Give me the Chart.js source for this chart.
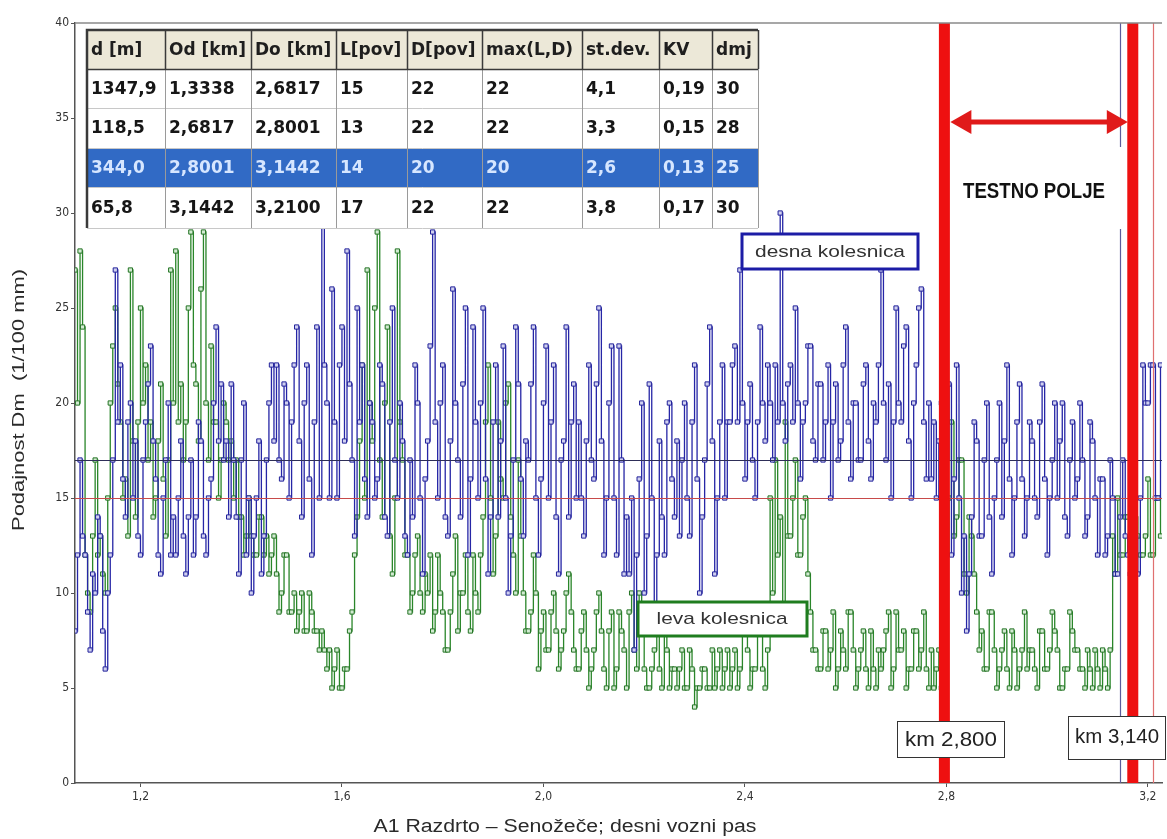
<!DOCTYPE html>
<html>
<head>
<meta charset="utf-8">
<script src="https://cdn.jsdelivr.net/npm/chart.js@4.4.0/dist/chart.umd.min.js"></script>
<style>
html,body{margin:0;padding:0;background:#fff;}
#wrap{width:1167px;height:839px;position:relative;}
</style>
</head>
<body>
<div id="wrap"><canvas id="c" width="1167" height="839"></canvas></div>
<script>
// ---------- DATA ----------
const startKm = 1.07;          // first measuring station (km)
const stepKm = 0.005;          // station spacing (km)

// Podajnost Dm (1/100 mm) - desna kolesnica (blue)
const desnaKolesnica = [
  8, 12, 17, 13, 12, 9, 7, 11, 10, 14, 13, 8, 6, 10, 12, 17, 27, 19, 22, 16,
  14, 19, 20, 15, 18, 13, 12, 17, 19, 21, 23, 18, 16, 12, 11, 15, 17, 20, 12, 14,
  12, 15, 18, 13, 11, 14, 17, 12, 14, 19, 18, 13, 12, 15, 16, 20, 24, 18, 21, 17,
  18, 14, 21, 17, 14, 11, 17, 20, 12, 15, 10, 13, 15, 18, 11, 13, 17, 20, 22, 18,
  22, 17, 16, 21, 20, 15, 19, 22, 24, 18, 14, 20, 22, 16, 12, 19, 24, 15, 30, 22,
  20, 15, 26, 19, 15, 22, 24, 18, 28, 21, 17, 13, 25, 19, 22, 16, 14, 20, 19, 15,
  16, 22, 21, 14, 13, 19, 25, 17, 15, 20, 18, 13, 12, 17, 14, 22, 20, 15, 11, 16,
  18, 23, 29, 19, 15, 20, 22, 14, 13, 18, 26, 20, 17, 14, 21, 25, 12, 16, 24, 19,
  15, 20, 25, 16, 11, 14, 19, 22, 14, 18, 23, 15, 10, 13, 17, 24, 21, 16, 13, 18,
  17, 21, 24, 15, 12, 16, 20, 23, 15, 19, 22, 14, 11, 17, 18, 24, 14, 19, 21, 15,
  19, 15, 13, 18, 22, 17, 16, 21, 25, 18, 12, 15, 20, 23, 15, 12, 23, 17, 11, 14,
  11, 15, 7, 12, 16, 20, 10, 13, 21, 15, 9, 12, 18, 14, 12, 19, 20, 16, 14, 18,
  13, 17, 20, 15, 13, 19, 22, 16, 10, 14, 17, 21, 24, 18, 11, 15, 19, 22, 15, 19,
  19, 22, 23, 19, 27, 20, 16, 19, 21, 17, 15, 19, 24, 20, 18, 22, 20, 17, 22, 19,
  30, 20, 18, 21, 22, 19, 25, 20, 16, 19, 20, 23, 23, 18, 17, 21, 21, 17, 19, 22,
  15, 19, 21, 17, 18, 22, 24, 19, 16, 20, 20, 17, 17, 21, 22, 18, 16, 20, 19, 22,
  27, 20, 17, 21, 15, 19, 25, 20, 19, 23, 24, 18, 15, 20, 22, 25, 26, 19, 16, 20,
  16, 19, 15, 18, 20, 14, 17, 21, 12, 16, 22, 15, 10, 13, 8, 11, 14, 19, 18, 13,
  13, 17, 20, 14, 11, 15, 17, 20, 14, 18, 22, 16, 12, 15, 19, 21, 16, 13, 15, 19,
  18, 15, 14, 19, 21, 16, 12, 15, 17, 20, 15, 18, 20, 14, 13, 17, 19, 15, 16, 20,
  17, 13, 14, 19, 18, 15, 12, 16, 16, 12, 13, 17, 15, 11, 11, 14, 17, 13, 12, 11,
  12, 13, 11, 15, 22, 20, 20, 22, 22, 15, 15, 22
];

// Podajnost Dm (1/100 mm) - leva kolesnica (green)
const levaKolesnica = [
  27, 20, 28, 24, 12, 10, 9, 13, 17, 12, 13, 11, 10, 15, 20, 23, 25, 21, 19, 15,
  16, 13, 27, 18, 14, 19, 25, 20, 22, 17, 19, 14, 15, 18, 21, 16, 13, 17, 27, 20,
  28, 19, 21, 17, 19, 25, 29, 22, 21, 18, 26, 29, 20, 17, 23, 19, 19, 15, 17, 20,
  19, 17, 18, 15, 17, 14, 14, 12, 13, 15, 13, 12, 12, 14, 14, 12, 13, 11, 12, 13,
  11, 9, 10, 12, 12, 9, 9, 10, 8, 9, 10, 8, 8, 10, 9, 8, 8, 7, 8, 7,
  6, 7, 5, 6, 7, 5, 5, 6, 6, 8, 9, 12, 14, 18, 22, 15, 27, 20, 18, 25,
  29, 17, 14, 20, 24, 13, 11, 15, 28, 19, 17, 12, 12, 9, 10, 12, 13, 10, 9, 11,
  10, 12, 8, 9, 12, 10, 9, 7, 7, 9, 11, 13, 8, 10, 10, 12, 9, 8, 12, 10,
  9, 12, 14, 19, 22, 15, 11, 13, 19, 16, 15, 20, 21, 14, 12, 10, 17, 13, 10, 8,
  8, 9, 12, 10, 6, 8, 9, 7, 7, 9, 10, 8, 6, 7, 8, 10, 11, 9, 7, 6,
  6, 8, 9, 7, 5, 6, 7, 9, 10, 8, 6, 5, 8, 9, 5, 6, 9, 8, 7, 5,
  9, 10, 7, 6, 10, 8, 6, 5, 5, 6, 7, 9, 6, 5, 8, 7, 5, 6, 6, 5,
  6, 7, 5, 5, 7, 6, 4, 5, 5, 6, 6, 5, 5, 7, 5, 6, 7, 5, 6, 7,
  5, 6, 7, 5, 6, 8, 9, 7, 5, 6, 6, 8, 8, 6, 5, 7, 15, 10, 17, 12,
  14, 8, 19, 13, 13, 15, 17, 12, 12, 14, 15, 11, 9, 7, 7, 6, 6, 8, 8, 6,
  7, 9, 5, 6, 8, 7, 6, 9, 9, 7, 5, 6, 7, 8, 6, 5, 8, 6, 5, 7,
  6, 7, 8, 9, 5, 6, 9, 7, 7, 8, 5, 6, 6, 8, 8, 6, 7, 9, 6, 5,
  7, 5, 6, 7, 5, 9, 12, 15, 19, 13, 14, 17, 17, 11, 10, 14, 13, 11, 9, 7,
  8, 6, 6, 9, 9, 7, 5, 6, 7, 8, 6, 5, 8, 7, 5, 6, 7, 9, 6, 7,
  7, 6, 5, 8, 8, 6, 6, 7, 9, 8, 7, 5, 5, 6, 6, 9, 8, 7, 7, 6,
  6, 5, 7, 6, 5, 7, 6, 5, 7, 6, 5, 7, 13, 11, 15, 12, 12, 14, 14, 12,
  11, 14, 13, 12, 12, 13, 16, 12, 12, 15, 15, 13
];

const xTickValues = [1.2, 1.6, 2.0, 2.4, 2.8, 3.2];
const xMin = 1.07, xMax = 3.228;
const yMin = 0, yMax = 40, yStep = 5;

const limitDesna = 17;               // horizontal reference (blue)
const limitLeva = 15;                // horizontal reference (red)
const testFieldKm = [2.796, 3.170];  // thick red markers
const segmentKm = [3.1442, 3.2100];  // thin segment boundaries

const tableHeader = ['d [m]', 'Od [km]', 'Do [km]', 'L[pov]', 'D[pov]', 'max(L,D)', 'st.dev.', 'KV', 'dmj'];
const tableRows = [
  ['1347,9', '1,3338', '2,6817', '15', '22', '22', '4,1', '0,19', '30'],
  ['118,5', '2,6817', '2,8001', '13', '22', '22', '3,3', '0,15', '28'],
  ['344,0', '2,8001', '3,1442', '14', '20', '20', '2,6', '0,13', '25'],
  ['65,8', '3,1442', '3,2100', '17', '22', '22', '3,8', '0,17', '30']
];
const highlightedRow = 2;

const yTitle = 'Podajnost Dm  (1/100 mm)';
const xTitle = 'A1 Razdrto – Senožeče; desni vozni pas';
const labelDesna = 'desna kolesnica';
const labelLeva = 'leva kolesnica';
const labelTest = 'TESTNO POLJE';
const labelKmStart = 'km 2,800';
const labelKmEnd = 'km 3,140';

// ---------- CHART ----------
const stations = desnaKolesnica.map((_, i) => +(startKm + i * stepKm).toFixed(3));
const tickFont = {family: '"Liberation Sans Narrow", "DejaVu Sans Condensed", "Liberation Sans", sans-serif', size: 12};

function fitText(ctx, text, cx, cy, width, font, color, rotate) {
  ctx.save();
  ctx.font = font;
  ctx.fillStyle = color;
  ctx.textAlign = 'center';
  ctx.textBaseline = 'middle';
  const w = ctx.measureText(text).width;
  ctx.translate(cx, cy);
  if (rotate) ctx.rotate(-Math.PI / 2);
  ctx.scale(width / w, 1);
  ctx.fillText(text, 0, 0);
  ctx.restore();
}

function labelBox(ctx, x0, y0, x1, y1, border, lw) {
  ctx.save();
  ctx.fillStyle = '#fff';
  ctx.fillRect(x0, y0, x1 - x0, y1 - y0);
  ctx.strokeStyle = border;
  ctx.lineWidth = lw;
  ctx.strokeRect(x0, y0, x1 - x0, y1 - y0);
  ctx.restore();
}

const overlay = {
  id: 'overlay',
  afterDatasetsDraw(chart) {
    const {ctx, chartArea: a, scales: {x, y}} = chart;
    ctx.save();
    ctx.beginPath();
    ctx.rect(a.left, a.top, a.right - a.left, a.bottom - a.top);
    ctx.clip();
    const hl = (v, c) => {
      const py = Math.round(y.getPixelForValue(v)) + 0.5;
      ctx.strokeStyle = c; ctx.lineWidth = 1.2;
      ctx.beginPath(); ctx.moveTo(a.left, py); ctx.lineTo(a.right, py); ctx.stroke();
    };
    hl(limitDesna, '#2e2e58');
    hl(limitLeva, '#c84a4a');
    const vl = (v, c) => {
      const px = Math.round(x.getPixelForValue(v)) + 0.5;
      ctx.strokeStyle = c; ctx.lineWidth = 1.2;
      ctx.beginPath(); ctx.moveTo(px, a.top); ctx.lineTo(px, a.bottom); ctx.stroke();
    };
    vl(segmentKm[0], '#5c5c9c');
    vl(segmentKm[1], '#e07070');
    ctx.fillStyle = '#ee1010';
    testFieldKm.forEach(k => {
      const px = x.getPixelForValue(k);
      ctx.fillRect(px - 5.5, a.top, 11, a.bottom - a.top);
    });
    ctx.restore();

    const p1 = x.getPixelForValue(testFieldKm[0]);
    const p2 = x.getPixelForValue(testFieldKm[1]);
    ctx.save();
    ctx.fillStyle = '#fff';
    ctx.fillRect(p1 + 7, 147, p2 - p1 - 13, 82);
    ctx.restore();

    ctx.save();
    ctx.fillStyle = '#e01a1a';
    ctx.strokeStyle = '#e01a1a';
    const ay = 122, ax0 = p1 + 6, ax1 = p2 - 5;
    ctx.lineWidth = 5;
    ctx.beginPath(); ctx.moveTo(ax0 + 15, ay); ctx.lineTo(ax1 - 15, ay); ctx.stroke();
    ctx.beginPath(); ctx.moveTo(ax0, ay); ctx.lineTo(ax0 + 21, ay - 12); ctx.lineTo(ax0 + 21, ay + 12); ctx.closePath(); ctx.fill();
    ctx.beginPath(); ctx.moveTo(ax1, ay); ctx.lineTo(ax1 - 21, ay - 12); ctx.lineTo(ax1 - 21, ay + 12); ctx.closePath(); ctx.fill();
    ctx.restore();

    fitText(ctx, labelTest, 1034, 192, 142, 'bold 22px "Liberation Sans Narrow", "Liberation Sans", sans-serif', '#111');

    labelBox(ctx, 742, 234, 918, 269, '#1c1ca6', 3);
    fitText(ctx, labelDesna, 830, 252, 150, '17px "Liberation Sans", Arial, sans-serif', '#333');
    labelBox(ctx, 638, 602, 807, 636, '#1f7d1f', 3);
    fitText(ctx, labelLeva, 722, 619, 131, '17px "Liberation Sans", Arial, sans-serif', '#333');

    labelBox(ctx, 897.5, 721.5, 1004.5, 757.5, '#333', 1);
    fitText(ctx, labelKmStart, 951, 740, 92, '20px "Liberation Sans", Arial, sans-serif', '#222');
    labelBox(ctx, 1068.5, 716.5, 1165.5, 759.5, '#333', 1);
    fitText(ctx, labelKmEnd, 1117, 737, 84, '20px "Liberation Sans", Arial, sans-serif', '#222');
  },
  afterDraw(chart) {
    const {ctx, chartArea: a} = chart;
    ctx.save();
    ctx.strokeStyle = '#8a8a8a';
    ctx.lineWidth = 1.5;
    ctx.beginPath(); ctx.moveTo(a.left, a.top); ctx.lineTo(a.right, a.top); ctx.stroke();
    ctx.restore();

    const cols = [87, 165, 251, 336, 407, 482, 582, 659, 712, 758];
    const rows = [30, 69, 108, 148, 187, 228];
    ctx.save();
    ctx.fillStyle = '#ece8d8';
    ctx.fillRect(cols[0], rows[0], cols[cols.length - 1] - cols[0], rows[1] - rows[0]);
    ctx.fillStyle = '#fff';
    ctx.fillRect(cols[0], rows[1], cols[cols.length - 1] - cols[0], rows[rows.length - 1] - rows[1]);
    ctx.fillStyle = '#316ac5';
    ctx.fillRect(cols[0], rows[highlightedRow + 1] + 1, cols[cols.length - 1] - cols[0], rows[highlightedRow + 2] - rows[highlightedRow + 1] - 1);
    ctx.strokeStyle = '#c8c8c8';
    ctx.lineWidth = 1;
    for (let r = 2; r < rows.length; r++) {
      ctx.beginPath(); ctx.moveTo(cols[0], rows[r] + 0.5); ctx.lineTo(cols[cols.length - 1], rows[r] + 0.5); ctx.stroke();
    }
    ctx.strokeStyle = '#9a9a9a';
    for (let c = 1; c < cols.length; c++) {
      ctx.beginPath(); ctx.moveTo(cols[c] + 0.5, rows[1]); ctx.lineTo(cols[c] + 0.5, rows[rows.length - 1]); ctx.stroke();
    }
    ctx.strokeStyle = '#3a3a3a';
    ctx.lineWidth = 1.5;
    for (let c = 1; c < cols.length; c++) {
      ctx.beginPath(); ctx.moveTo(cols[c] + 0.5, rows[0]); ctx.lineTo(cols[c] + 0.5, rows[1]); ctx.stroke();
    }
    ctx.beginPath(); ctx.moveTo(cols[0], rows[1] + 0.5); ctx.lineTo(cols[cols.length - 1], rows[1] + 0.5); ctx.stroke();
    ctx.lineWidth = 2.5;
    ctx.beginPath();
    ctx.moveTo(cols[0], rows[rows.length - 1]); ctx.lineTo(cols[0], rows[0]); ctx.lineTo(cols[cols.length - 1], rows[0]);
    ctx.stroke();
    ctx.font = 'bold 17px "DejaVu Sans", Verdana, sans-serif';
    ctx.textBaseline = 'middle';
    ctx.textAlign = 'left';
    tableHeader.forEach((t, c) => {
      ctx.fillStyle = '#1e1e1e';
      ctx.fillText(t, cols[c] + 4, (rows[0] + rows[1]) / 2 + 1);
    });
    tableRows.forEach((row, r) => {
      row.forEach((t, c) => {
        ctx.fillStyle = r === highlightedRow ? '#d6e6ff' : '#161616';
        ctx.fillText(t, cols[c] + 4, (rows[r + 1] + rows[r + 2]) / 2 + 1);
      });
    });
    ctx.restore();

    fitText(ctx, yTitle, 19, 400, 262, '17px "Liberation Sans", Arial, sans-serif', '#2a2a2a', true);
    fitText(ctx, xTitle, 565, 827, 383, '18px "Liberation Sans", Arial, sans-serif', '#2a2a2a');
  }
};

new Chart(document.getElementById('c'), {
  type: 'line',
  data: {
    datasets: [
      {
        label: labelDesna,
        data: stations.map((s, i) => ({x: s, y: desnaKolesnica[i]})),
        borderColor: '#2626a6',
        borderWidth: 1.3,
        stepped: true,
        pointStyle: 'rect',
        pointRadius: 3,
        pointBorderWidth: 1,
        pointBorderColor: '#22229a',
        pointBackgroundColor: '#d0d0f0',
        order: 0
      },
      {
        label: labelLeva,
        data: stations.map((s, i) => ({x: s, y: levaKolesnica[i]})),
        borderColor: '#2a862a',
        borderWidth: 1.3,
        stepped: true,
        pointStyle: 'rect',
        pointRadius: 3,
        pointBorderWidth: 1,
        pointBorderColor: '#237323',
        pointBackgroundColor: '#d2ebd2',
        order: 1
      }
    ]
  },
  options: {
    responsive: false,
    animation: false,
    devicePixelRatio: 1,
    layout: {padding: {top: 23, right: 0, left: 0, bottom: 0}},
    plugins: {legend: {display: false}, tooltip: {enabled: false}},
    scales: {
      x: {
        type: 'linear',
        min: xMin,
        max: xMax,
        afterBuildTicks: s => { s.ticks = xTickValues.map(v => ({value: v})); },
        afterFit: s => { s.height = 56; },
        ticks: {
          callback: v => Number(v).toFixed(1).replace('.', ','),
          font: tickFont, color: '#333', padding: 3, maxRotation: 0, autoSkip: false
        },
        grid: {drawOnChartArea: false, tickLength: 4, color: '#555'},
        border: {color: '#555', width: 1.5}
      },
      y: {
        min: yMin,
        max: yMax,
        afterFit: s => { s.width = 75; },
        ticks: {stepSize: yStep, font: tickFont, color: '#333', padding: 2},
        grid: {drawOnChartArea: false, tickLength: 4, color: '#555'},
        border: {color: '#555', width: 1.5}
      }
    }
  },
  plugins: [overlay]
});
</script>
</body>
</html>
